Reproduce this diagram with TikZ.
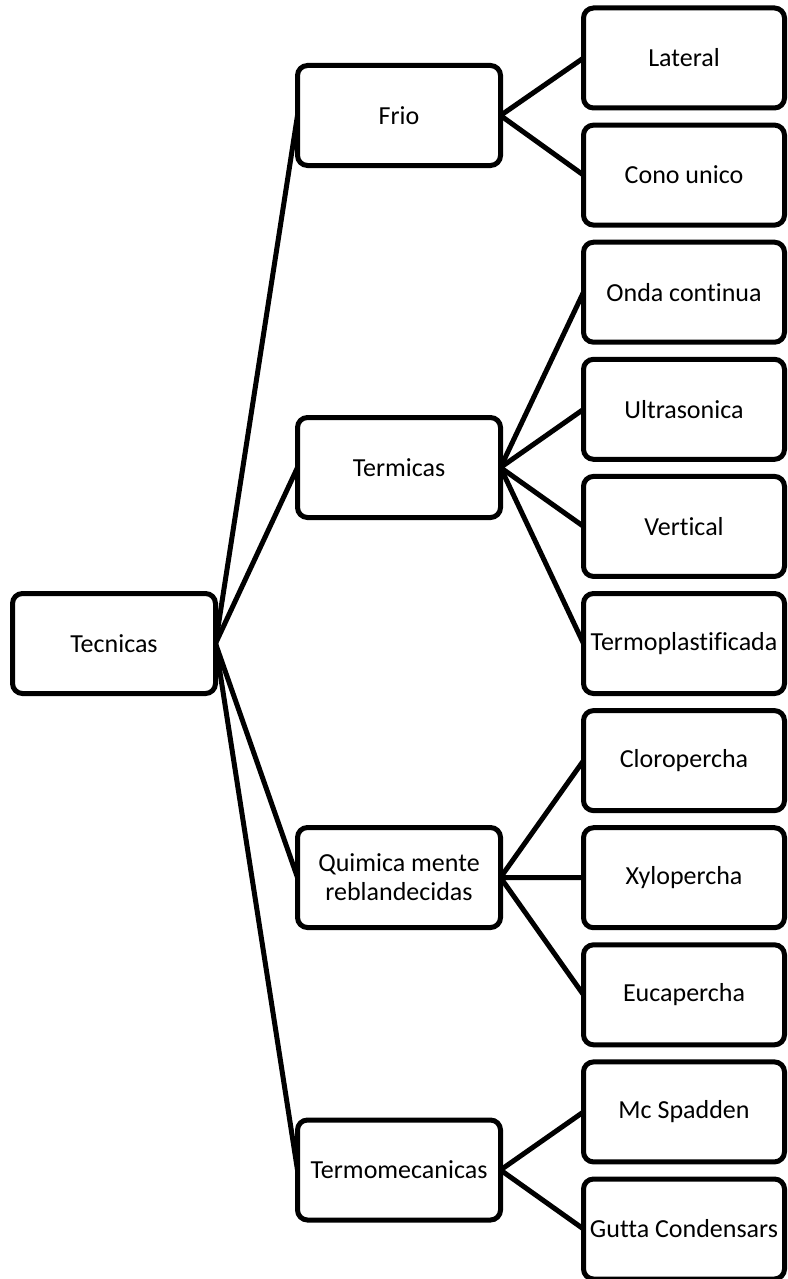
\documentclass[tikz,border=0pt]{standalone}
\usepackage{fontspec}
\setmainfont[RawFeature={-liga;-clig;-dlig}]{Carlito}
\begin{document}
\begin{tikzpicture}[x=1pt,y=-1pt,
  box/.style={draw=black, line width=5pt, rounded corners=10pt, fill=white,
    minimum height=100pt, inner sep=0pt, outer sep=0pt, align=center,
    font=\fontsize{26}{29}\selectfont},
  rootbox/.style={box, minimum width=203pt},
  midbox/.style={box, minimum width=203pt},
  leafbox/.style={box, minimum width=201pt},
  link/.style={draw=black, line width=5pt}]
\useasboundingbox (0,0) rectangle (787,1279);

% root
\node[rootbox] (tec) at (114,643.5) {Tecnicas};

% first level
\node[midbox] (frio) at (399,115.5) {Frio};
\node[midbox] (term) at (399,467.5) {Termicas};
\node[midbox] (quim) at (399,877.5) {Quimica mente\\reblandecidas};
\node[midbox] (tmec) at (399,1170) {Termomecanicas};

% second level
\node[leafbox] (lat)  at (684,58)     {Lateral};
\node[leafbox] (cono) at (684,175.1)  {Cono unico};
\node[leafbox] (onda) at (684,292.2)  {Onda continua};
\node[leafbox] (ultr) at (684,409.3)  {Ultrasonica};
\node[leafbox] (vert) at (684,526.4)  {Vertical};
\node[leafbox] (tpla) at (684,643.5)  {Termoplastificada};
\node[leafbox] (clor) at (684,760.6)  {Cloropercha};
\node[leafbox] (xylo) at (684,877.7)  {Xylopercha};
\node[leafbox] (euca) at (684,994.8)  {Eucapercha};
\node[leafbox] (mcsp) at (684,1111.9) {Mc Spadden};
\node[leafbox] (gutt) at (684,1229)   {Gutta Condensars};

% connectors
\foreach \c in {frio,term,quim,tmec}
  \draw[link] (tec.east) -- (\c.west);
\foreach \c in {lat,cono}
  \draw[link] (frio.east) -- (\c.west);
\foreach \c in {onda,ultr,vert,tpla}
  \draw[link] (term.east) -- (\c.west);
\foreach \c in {clor,xylo,euca}
  \draw[link] (quim.east) -- (\c.west);
\foreach \c in {mcsp,gutt}
  \draw[link] (tmec.east) -- (\c.west);
\end{tikzpicture}
\end{document}
